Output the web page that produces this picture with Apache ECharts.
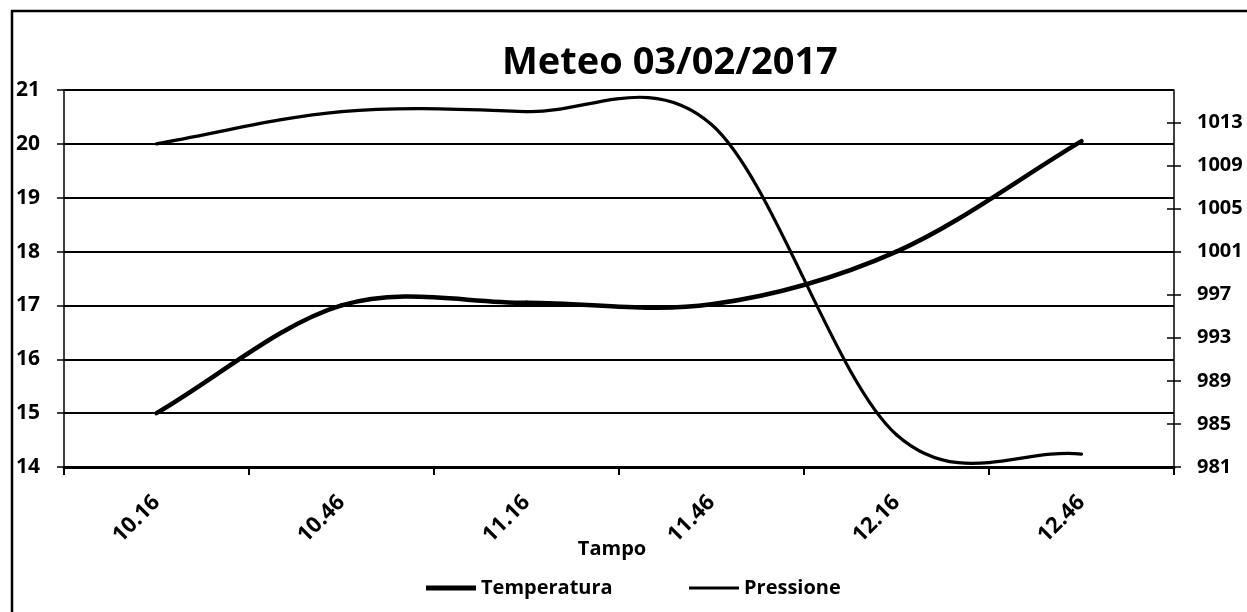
<!DOCTYPE html>
<html>
<head>
<meta charset="utf-8">
<script src="https://cdn.jsdelivr.net/npm/echarts@6/dist/echarts.min.js"></script>
<style>html,body{margin:0;padding:0;background:#fff}#c{width:1247px;height:612px}</style>
</head>
<body>
<div id="c"></div>
<script>
// ---- data ----
const categories = ['10.16', '10.46', '11.16', '11.46', '12.16', '12.46'];
const temperatura = [15.0, 17.0, 17.05, 17.02, 18.0, 20.05];      // left axis
const pressione = [1011, 1014, 1014, 1012.8, 984, 982.2];          // right axis
const rightTicks = [981, 985, 989, 993, 997, 1001, 1005, 1009, 1013];
const titleText = 'Meteo 03/02/2017';
const xName = 'Tampo';
const seriesNames = ['Temperatura', 'Pressione'];

const FONT = '"Open Sans", "Liberation Sans", sans-serif';

// Excel-like smoothed line (Catmull-Rom bezier) drawn through the axes
function smoothRenderer(values, width) {
  return function (params, api) {
    const i = params.dataIndex;
    if (i >= values.length - 1) return null;
    const P = k => api.coord([k, values[k]]);
    const p1 = P(i), p2 = P(i + 1);
    const p0 = i > 0 ? P(i - 1) : [2 * p1[0] - p2[0], 2 * p1[1] - p2[1]];
    const p3 = i + 2 < values.length ? P(i + 2) : [2 * p2[0] - p1[0], 2 * p2[1] - p1[1]];
    return {
      type: 'bezierCurve',
      shape: {
        x1: p1[0], y1: p1[1],
        cpx1: p1[0] + (p2[0] - p0[0]) / 6, cpy1: p1[1] + (p2[1] - p0[1]) / 6,
        cpx2: p2[0] - (p3[0] - p1[0]) / 6, cpy2: p2[1] - (p3[1] - p1[1]) / 6,
        x2: p2[0], y2: p2[1]
      },
      style: { fill: 'none', stroke: '#000', lineWidth: width, lineCap: 'round' }
    };
  };
}

const chart = echarts.init(document.getElementById('c'), null, { renderer: 'canvas' });
const option = {
  backgroundColor: '#fff',
  animation: false,
  title: {
    text: titleText, left: 497, top: 39,
    textStyle: { fontFamily: FONT, fontWeight: 'bold', fontSize: 38, color: '#000' }
  },
  graphic: [{
    type: 'rect', z: -1, silent: true,
    shape: { x: 12, y: 11, width: 1300, height: 700 },
    style: { fill: 'none', stroke: '#000', lineWidth: 2.5 }
  }],
  legend: [{
    data: [{ name: seriesNames[0], icon: 'rect', itemStyle: { color: '#000' } }],
    left: 421, top: 573, itemWidth: 50, itemHeight: 5, selectedMode: false,
    textStyle: { fontFamily: FONT, fontWeight: 'bold', fontSize: 20, color: '#000' }
  }, {
    data: [{ name: seriesNames[1], icon: 'rect', itemStyle: { color: '#000' } }],
    left: 684, top: 573, itemWidth: 50, itemHeight: 3, selectedMode: false,
    textStyle: { fontFamily: FONT, fontWeight: 'bold', fontSize: 20, color: '#000' }
  }],
  grid: { left: 64, right: 73, top: 90, bottom: 145, containLabel: false, outerBoundsMode: 'none' },
  xAxis: {
    type: 'category', data: categories, boundaryGap: true,
    name: xName, nameLocation: 'middle', nameGap: 72, nameMoveOverlap: false,
    nameTextStyle: { fontFamily: FONT, fontWeight: 'bold', fontSize: 20, color: '#000', padding: [0, 14, 0, 0] },
    axisLine: { show: true, lineStyle: { color: '#000', width: 3 } },
    axisTick: { show: true, length: 8, lineStyle: { color: '#000', width: 2 } },
    axisLabel: { rotate: 45, margin: 32, fontFamily: FONT, fontWeight: 'bold', fontSize: 22, color: '#000' },
    splitLine: { show: false }
  },
  yAxis: [{
    type: 'value', min: 14, max: 21, interval: 1, position: 'left',
    axisLine: { show: true, lineStyle: { color: '#000', width: 1.5 } },
    axisTick: { show: true, length: 7, lineStyle: { color: '#000', width: 1.5 } },
    axisLabel: { margin: 24, fontFamily: FONT, fontWeight: 'bold', fontSize: 21, color: '#000' },
    splitLine: { show: true, lineStyle: { color: '#000', width: 2 } }
  }, {
    type: 'value', min: 981, max: 1016, position: 'right',
    axisLine: { show: true, lineStyle: { color: '#000', width: 1.5 } },
    axisTick: { show: true, length: 7, customValues: rightTicks, lineStyle: { color: '#000', width: 1.5 } },
    axisLabel: { margin: 23, customValues: rightTicks, formatter: v => String(v),
      fontFamily: FONT, fontWeight: 'bold', fontSize: 20, color: '#000' },
    splitLine: { show: false }
  }, {
    type: 'value', min: 981, max: 1016, position: 'right',
    axisLine: { show: false },
    axisTick: { show: true, inside: true, length: 7, customValues: rightTicks, lineStyle: { color: '#000', width: 1.5 } },
    axisLabel: { show: false },
    splitLine: { show: false }
  }],
  series: [{
    name: seriesNames[0], type: 'custom', yAxisIndex: 0, z: 5,
    itemStyle: { color: '#000' },
    encode: { x: 0, y: 1 },
    data: temperatura.map((v, i) => [i, v]),
    renderItem: smoothRenderer(temperatura, 4.5)
  }, {
    name: seriesNames[1], type: 'custom', yAxisIndex: 1, z: 5,
    itemStyle: { color: '#000' },
    encode: { x: 0, y: 1 },
    data: pressione.map((v, i) => [i, v]),
    renderItem: smoothRenderer(pressione, 3.2)
  }]
};
chart.setOption(option);
</script>
</body>
</html>
